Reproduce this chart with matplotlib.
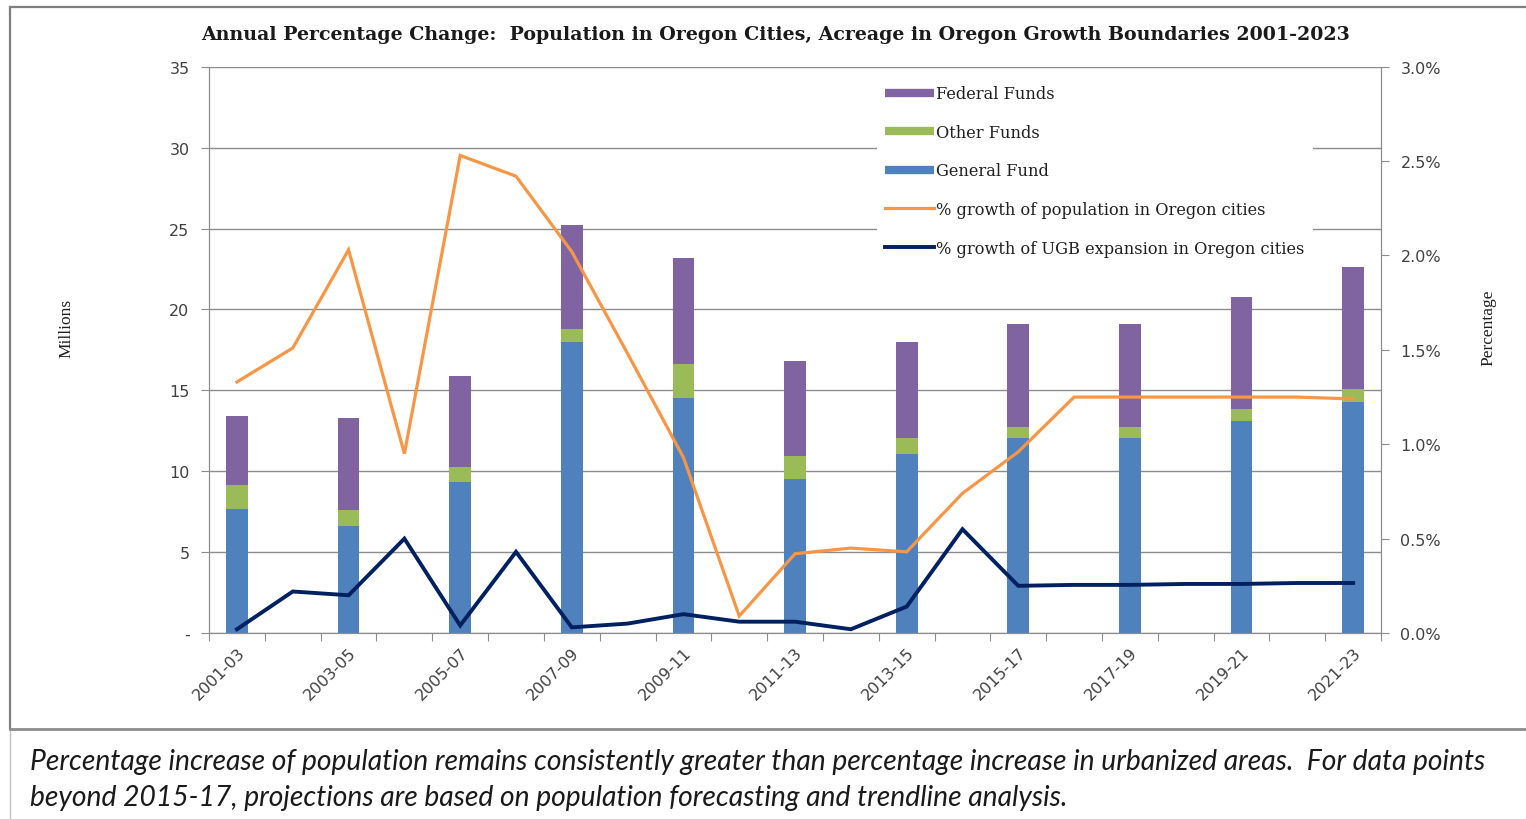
import numpy as np
import matplotlib.pyplot as plt
from matplotlib.lines import Line2D

# bars (millions), one per biennium
bar_labels = ["2001-03", "2003-05", "2005-07", "2007-09", "2009-11", "2011-13",
              "2013-15", "2015-17", "2017-19", "2019-21", "2021-23"]
general_fund = [7.68, 6.64, 9.34, 18.0, 14.5, 9.53, 11.07, 12.05, 12.05, 13.1, 14.3]
other_funds = [1.48, 0.96, 0.93, 0.8, 2.1, 1.41, 0.98, 0.7, 0.7, 0.73, 0.8]
federal_funds = [4.24, 5.66, 5.63, 6.4, 6.55, 5.86, 5.95, 6.35, 6.35, 6.92, 7.5]

# lines (percent), one per year step
pop_growth = [1.33, 1.51, 2.03, 0.95, 2.53, 2.42, 2.02, 1.48, 0.93, 0.09, 0.42,
              0.45, 0.43, 0.74, 0.96, 1.25, 1.25, 1.25, 1.25, 1.25, 1.24]
ugb_growth = [0.02, 0.22, 0.20, 0.50, 0.04, 0.43, 0.03, 0.05, 0.10, 0.06, 0.06,
              0.02, 0.14, 0.55, 0.25, 0.255, 0.255, 0.26, 0.26, 0.265, 0.265]

c_gen = "#4F81BD"
c_oth = "#9BBB59"
c_fed = "#8064A2"
c_pop = "#F79646"
c_ugb = "#002060"
grid_c = "#8c8c8c"
txt_c = "#404040"

fig = plt.figure(figsize=(15.26, 8.2), dpi=100)
ax = fig.add_axes([0.137, 0.2268, 0.768, 0.6906])
ax2 = ax.twinx()

n = len(pop_growth)
xl = np.arange(n)
xb = xl[::2]
gen = np.array(general_fund)
oth = np.array(other_funds)
fed = np.array(federal_funds)
w = 0.39
ax.bar(xb, gen, w, color=c_gen, zorder=2)
ax.bar(xb, oth, w, bottom=gen, color=c_oth, zorder=2)
ax.bar(xb, fed, w, bottom=gen + oth, color=c_fed, zorder=2)

ax2.plot(xl, pop_growth, color=c_pop, lw=2.3, solid_joinstyle="miter")
ax2.plot(xl, ugb_growth, color=c_ugb, lw=2.8, solid_joinstyle="miter")

ax.set_xlim(-0.5, n - 0.5)
ax.set_ylim(0, 35)
ax2.set_ylim(0, 3.0)
ax.set_yticks(np.arange(0, 36, 5))
ax.set_yticklabels(["-"] + [str(v) for v in range(5, 36, 5)])
ax2.set_yticks(np.arange(0, 3.01, 0.5))
ax2.set_yticklabels(["%.1f%%" % v for v in np.arange(0, 3.01, 0.5)])
ax.yaxis.grid(True, color=grid_c, lw=1, zorder=0)
ax.set_axisbelow(True)

ax.set_xticks(np.arange(-0.5, n, 1))
ax.set_xticklabels([])
ax.set_xticks(xb, minor=True)
ax.set_xticklabels(bar_labels, minor=True, rotation=45, ha="right",
                   rotation_mode="anchor", fontsize=11.5, color=txt_c,
                   family="DejaVu Sans")
ax.tick_params(axis="x", which="minor", length=0, pad=8)
ax.tick_params(axis="x", which="major", length=6, color=grid_c, direction="out")
ax.tick_params(axis="y", length=6, color=grid_c, labelsize=11.5, labelcolor=txt_c, pad=8)
ax2.tick_params(axis="y", length=6, color=grid_c, labelsize=11.5, labelcolor=txt_c, pad=8)

for a in (ax, ax2):
    for s in a.spines.values():
        s.set_color(grid_c)
    a.spines["top"].set_visible(False)

ax.set_ylabel("Millions", family="Liberation Serif", fontsize=12.5, color="#202020", labelpad=0)
ax.yaxis.set_label_coords(-0.115, 0.54)
ax2.set_ylabel("Percentage", family="Liberation Serif", fontsize=12.5, color="#202020")
ax2.yaxis.set_label_coords(1.085, 0.54)

fig.text(0.5085, 0.957, "Annual Percentage Change:  Population in Oregon Cities, Acreage in Oregon Growth Boundaries 2001-2023",
         ha="center", va="center", family="DejaVu Serif", fontweight="bold", fontsize=13.7, color="#1a1a1a")

handles = [Line2D([], [], color=c_fed, lw=6, solid_capstyle="butt"),
           Line2D([], [], color=c_oth, lw=6, solid_capstyle="butt"),
           Line2D([], [], color=c_gen, lw=6, solid_capstyle="butt"),
           Line2D([], [], color=c_pop, lw=2.3),
           Line2D([], [], color=c_ugb, lw=2.8)]
names = ["Federal Funds", "Other Funds", "General Fund",
         "% growth of population in Oregon cities",
         "% growth of UGB expansion in Oregon cities"]
leg = ax2.legend(handles, names, loc="upper left", bbox_to_anchor=(0.563, 0.996),
                 frameon=True, facecolor="white", edgecolor="none", framealpha=1,
                 fancybox=False, prop={"family": "DejaVu Serif", "size": 11.7},
                 handlelength=3.0, handletextpad=0.15, labelspacing=1.33,
                 borderpad=0.5)
for t in leg.get_texts():
    t.set_color("#202020")

# chart frame and caption box
fig.add_artist(Line2D([10 / 1526, 10 / 1526], [1 - 8 / 820, 1 - 730 / 820],
                      transform=fig.transFigure, color="#7f7f7f", lw=1.6))
fig.add_artist(Line2D([10 / 1526, 1], [1 - 8 / 820, 1 - 8 / 820],
                      transform=fig.transFigure, color="#7f7f7f", lw=1.6))
fig.add_artist(Line2D([10 / 1526, 1], [1 - 730 / 820, 1 - 730 / 820],
                      transform=fig.transFigure, color="#8c8c8c", lw=2))
fig.add_artist(Line2D([10 / 1526, 10 / 1526], [1 - 732 / 820, 0],
                      transform=fig.transFigure, color="#c0c0c0", lw=1))

caption = ("Percentage increase of population remains consistently greater than percentage increase in urbanized areas.  For data points\n"
           "beyond 2015-17, projections are based on population forecasting and trendline analysis.")
fig.text(30 / 1526, 1 - 780 / 820, caption, ha="left", va="center", style="italic",
         family="Lato", fontsize=20.3, color="#1a1a1a", linespacing=1.45)

fig.savefig("out.png", dpi=100)
